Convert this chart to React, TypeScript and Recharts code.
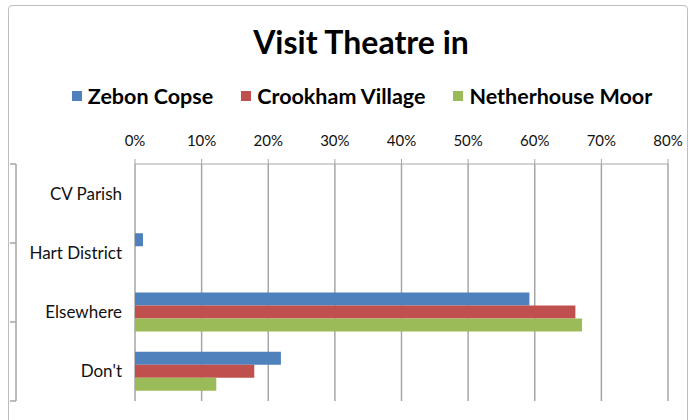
import { BarChart, Bar, XAxis, YAxis, CartesianGrid, Legend } from 'recharts'

const categories = ['CV Parish', 'Hart District', 'Elsewhere', "Don't"]
const zebonCopse = [0, 1.2, 59.2, 21.9]
const crookhamVillage = [0, 0, 66.1, 17.9]
const netherhouseMoor = [0, 0, 67.1, 12.2]
const percentTicks = [0, 10, 20, 30, 40, 50, 60, 70, 80]
const bandEdges = [0, 1, 2, 3, 4]

const SERIES = [
    { key: 'zebon', name: 'Zebon Copse', color: '#4F81BD' },
    { key: 'crookham', name: 'Crookham Village', color: '#C0504D' },
    { key: 'netherhouse', name: 'Netherhouse Moor', color: '#9BBB59' },
]

const FONT = 'Lato, "Open Sans", sans-serif'

const data = categories.map((name, i) => ({
    name,
    zebon: zebonCopse[i],
    crookham: crookhamVillage[i],
    netherhouse: netherhouseMoor[i],
}))

// legend in series order (Excel style, squares + bold labels)
function ChartLegend() {
    return (
        <div style={{ display: 'flex', justifyContent: 'center', alignItems: 'center', paddingLeft: 30, fontSize: 21.5, fontWeight: 700, color: '#000', fontFamily: FONT }}>
            {SERIES.map((s, i) => (
                <div key={s.key} style={{ display: 'flex', alignItems: 'center', marginLeft: i === 0 ? 0 : 28 }}>
                    <span style={{ display: 'inline-block', width: 10, height: 10, background: s.color, marginRight: 6 }} />
                    <span>{s.name}</span>
                </div>
            ))}
        </div>
    )
}

export default function App() {
    return (
        <div style={{ position: 'absolute', left: 0, top: 0, width: 694, height: 420, background: '#fff', fontFamily: FONT, overflow: 'hidden' }}>
            {/* chart frame */}
            <div style={{ position: 'absolute', left: 8, top: 5, width: 678, height: 430, border: '1px solid #bdbdbd', borderRadius: 4 }} />
            <div style={{ position: 'absolute', left: 14, top: 22, width: 694, textAlign: 'center', fontSize: 32, fontWeight: 700, color: '#000' }}>
                Visit Theatre in
            </div>
            <BarChart
                width={694}
                height={420}
                data={data}
                layout="vertical"
                margin={{ top: 124, right: 26, bottom: 19, left: 10 }}
                barSize={13}
                barGap={0}
                style={{ position: 'absolute', left: 0, top: 0 }}
            >
                <CartesianGrid horizontal={false} stroke="#a6a6a6" strokeWidth={1.5} />
                <XAxis
                    type="number"
                    orientation="top"
                    domain={[0, 80]}
                    ticks={percentTicks}
                    tickFormatter={(v) => `${v}%`}
                    height={40}
                    tickSize={5}
                    tickMargin={13}
                    stroke="#a6a6a6"
                    tick={{ fill: '#111', fontSize: 15, fontFamily: FONT }}
                />
                {/* tick marks between categories, Excel style */}
                <YAxis
                    yAxisId="edge"
                    type="number"
                    domain={[0, 4]}
                    ticks={bandEdges}
                    width={6}
                    tick={{ fontSize: 1, fill: 'none' }}
                    tickSize={6}
                    tickMargin={0}
                    stroke="#a6a6a6"
                    strokeWidth={1.5}
                />
                <YAxis
                    yAxisId={0}
                    type="category"
                    dataKey="name"
                    width={119}
                    axisLine={false}
                    tickLine={false}
                    tickSize={0}
                    tickMargin={13}
                    tick={{ fill: '#111', fontSize: 17, fontFamily: FONT }}
                />
                <Legend
                    layout="horizontal"
                    verticalAlign="middle"
                    align="center"
                    wrapperStyle={{ top: 83, left: 0, width: 694 }}
                    content={() => <ChartLegend />}
                />
                {SERIES.map((s) => (
                    <Bar key={s.key} dataKey={s.key} name={s.name} fill={s.color} isAnimationActive={false} />
                ))}
            </BarChart>
        </div>
    )
}
